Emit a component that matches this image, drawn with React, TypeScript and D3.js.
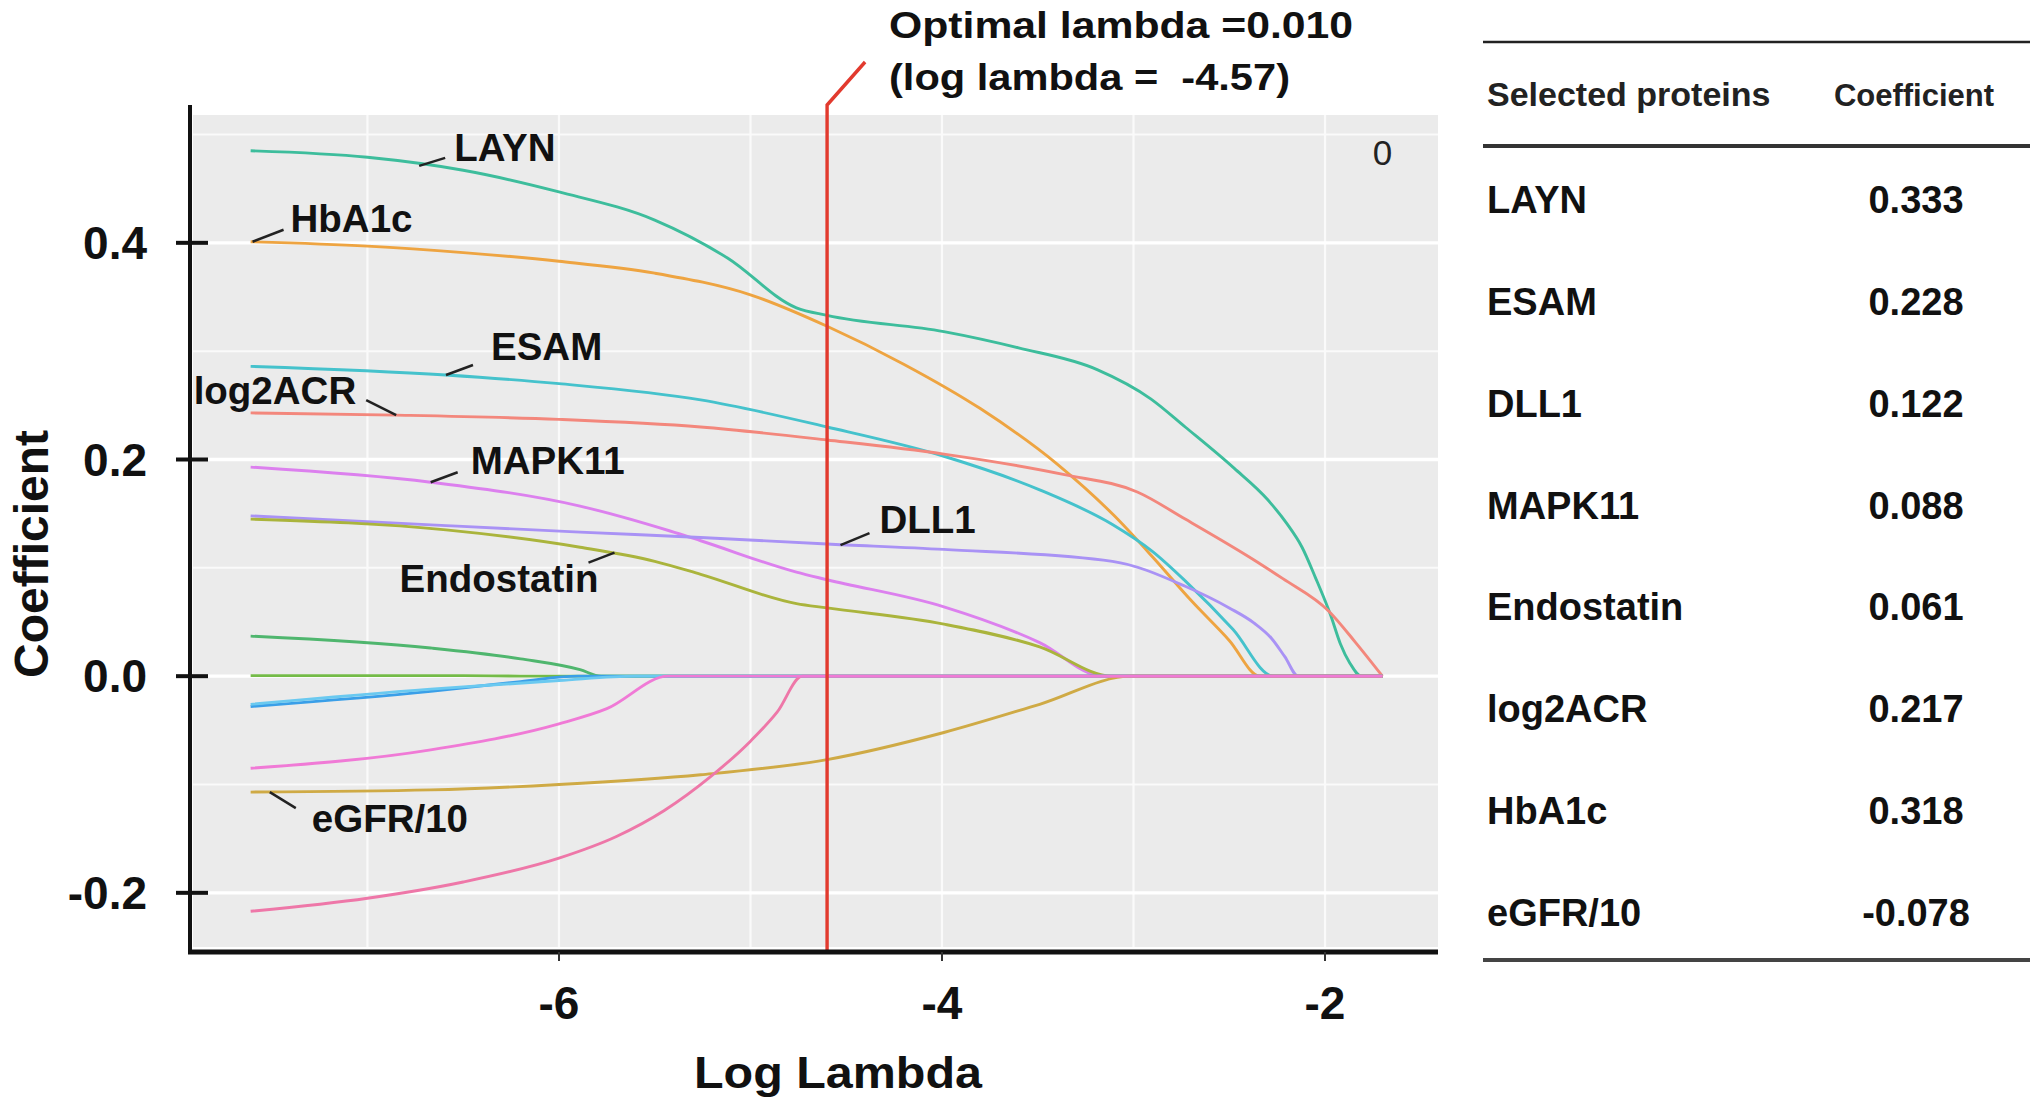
import React from 'react';
import * as d3 from 'd3';

const W = 2040;
const H = 1107;

// ---- Coefficient paths: [log lambda, coefficient] ----
const LAYN = [[-7.61,0.485],[-7.0,0.479],[-6.5,0.467],[-6.0,0.447],[-5.5,0.421],[-5.12,0.386],[-4.76,0.340],[-4.6,0.333],[-3.99,0.318],[-3.6,0.303],[-3.19,0.283],[-2.91,0.256],[-2.73,0.230],[-2.475,0.192],[-2.3,0.163],[-2.2,0.141],[-2.12,0.119],[-2.05,0.091],[-1.97,0.056],[-1.92,0.030],[-1.87,0.012],[-1.81,0],[-1.70,0]];
const HBA1C = [[-7.61,0.401],[-7.0,0.397],[-6.5,0.391],[-6.0,0.383],[-5.5,0.372],[-5.0,0.352],[-4.6,0.323],[-4.2,0.288],[-3.8,0.247],[-3.4,0.196],[-3.1,0.148],[-2.9,0.110],[-2.7,0.070],[-2.5,0.033],[-2.34,0],[-1.70,0]];
const ESAM = [[-7.61,0.286],[-6.59,0.278],[-6.0,0.270],[-5.26,0.255],[-4.6,0.230],[-3.99,0.203],[-3.49,0.172],[-3.11,0.140],[-2.9,0.115],[-2.73,0.088],[-2.48,0.043],[-2.27,0],[-1.70,0]];
const LOG2ACR = [[-7.61,0.243],[-6.85,0.241],[-6.0,0.237],[-5.26,0.230],[-4.6,0.218],[-3.99,0.205],[-3.36,0.186],[-2.98,0.170],[-2.73,0.145],[-2.35,0.105],[-2.22,0.090],[-1.98,0.060],[-1.84,0.031],[-1.70,0]];
const MAPK11 = [[-7.61,0.193],[-6.67,0.179],[-5.89,0.157],[-5.42,0.134],[-5.26,0.125],[-4.76,0.096],[-4.6,0.089],[-3.99,0.064],[-3.49,0.031],[-3.16,0],[-1.70,0]];
const DLL1 = [[-7.61,0.148],[-6.59,0.139],[-5.89,0.133],[-5.26,0.128],[-4.6,0.122],[-3.99,0.117],[-3.11,0.106],[-2.73,0.083],[-2.5,0.063],[-2.37,0.049],[-2.28,0.035],[-2.21,0.018],[-2.14,0],[-1.70,0]];
const ENDOSTATIN = [[-7.61,0.145],[-6.59,0.135],[-5.89,0.119],[-5.5,0.106],[-5.26,0.094],[-4.76,0.067],[-4.6,0.063],[-3.99,0.048],[-3.49,0.027],[-3.11,0],[-1.70,0]];
const GREEN_POS = [[-7.61,0.037],[-6.67,0.026],[-6.2,0.016],[-5.89,0.006],[-5.78,0],[-1.70,0]];
const GREEN_ZERO = [[-7.61,0.0005],[-6.5,0.0005],[-6.2,0],[-1.70,0]];
const BLUE = [[-7.61,-0.028],[-6.67,-0.014],[-6.2,-0.005],[-5.9,0],[-1.70,0]];
const LIGHT_BLUE = [[-7.61,-0.026],[-6.67,-0.012],[-6.0,-0.004],[-5.6,0],[-1.70,0]];
const EGFR = [[-7.61,-0.107],[-6.67,-0.105],[-6.0,-0.100],[-5.26,-0.091],[-4.6,-0.077],[-3.99,-0.052],[-3.49,-0.026],[-3.01,0],[-1.70,0]];
const CRIMSON = [[-7.61,-0.217],[-7.0,-0.205],[-6.5,-0.190],[-6.0,-0.168],[-5.7,-0.148],[-5.45,-0.124],[-5.21,-0.093],[-5.0,-0.060],[-4.86,-0.033],[-4.73,0],[-1.70,0]];
const MAGENTA = [[-7.61,-0.085],[-6.67,-0.068],[-6.0,-0.044],[-5.75,-0.030],[-5.43,0],[-1.70,0]];

const SERIES = [
  { data: LAYN, color: '#3dbd9c' },
  { data: HBA1C, color: '#eea441' },
  { data: ESAM, color: '#45c2cc' },
  { data: LOG2ACR, color: '#f3877c' },
  { data: MAPK11, color: '#dc80ee' },
  { data: DLL1, color: '#a992f5' },
  { data: ENDOSTATIN, color: '#aab43c' },
  { data: GREEN_POS, color: '#4fb66e' },
  { data: GREEN_ZERO, color: '#74bb48' },
  { data: BLUE, color: '#3a9fe8' },
  { data: LIGHT_BLUE, color: '#6ac9f0' },
  { data: EGFR, color: '#cfaa45' },
  { data: CRIMSON, color: '#ee77a8' },
  { data: MAGENTA, color: '#f07ad6' },
];

// Annotations: label text + anchor on curve (data coordinates)
const ANNOTATIONS = [
  { text: 'LAYN', at: [-6.73, 0.471], dx1: 26, dy1: -8, tx: 35, ty: -5, anchor: 'start' },
  { text: 'HbA1c', at: [-7.6, 0.401], dx1: 31, dy1: -12, tx: 38, ty: -10, anchor: 'start' },
  { text: 'ESAM', at: [-6.59, 0.278], dx1: 27, dy1: -10, tx: 45, ty: -15, anchor: 'start' },
  { text: 'log2ACR', at: [-6.85, 0.241], dx1: -30, dy1: -15, tx: -40, ty: -11, anchor: 'end' },
  { text: 'MAPK11', at: [-6.67, 0.179], dx1: 27, dy1: -10, tx: 40, ty: -8, anchor: 'start' },
  { text: 'Endostatin', at: [-5.71, 0.114], dx1: -26, dy1: 10, tx: -16, ty: 39, anchor: 'end' },
  { text: 'DLL1', at: [-4.53, 0.121], dx1: 29, dy1: -12, tx: 39, ty: -12, anchor: 'start' },
  { text: 'eGFR/10', at: [-7.51, -0.107], dx1: 26, dy1: 16, tx: 42, ty: 40, anchor: 'start' },
];

const X_TICKS = [-6, -4, -2];
const X_GRID = [-7, -6, -5, -4, -3, -2];
const Y_TICKS = [0.4, 0.2, 0.0, -0.2];
const Y_MINOR = [0.5, 0.3, 0.1, -0.1];
const OPT_LOG_LAMBDA = -4.6;
const TITLE_1 = 'Optimal lambda =0.010';
const TITLE_2 = '(log lambda =  -4.57)';
const TOP_COUNT = '0';
const TOP_COUNT_AT = -1.70;

const TABLE_NAMES = ['LAYN', 'ESAM', 'DLL1', 'MAPK11', 'Endostatin', 'log2ACR', 'HbA1c', 'eGFR/10'];
const TABLE_COEFS = ['0.333', '0.228', '0.122', '0.088', '0.061', '0.217', '0.318', '-0.078'];

const FONT = '"Liberation Sans", Arial, Helvetica, sans-serif';

export default function App() {
  const x = d3.scaleLinear().domain([-7.911, -1.41]).range([193, 1438]);
  const y = d3.scaleLinear().domain([-0.25, 0.518]).range([947, 115]);
  const line = d3
    .line<number[]>()
    .x((d) => x(d[0]))
    .y((d) => y(d[1]))
    .curve(d3.curveMonotoneX);

  const [x0, x1] = x.range();
  const [yb, yt] = y.range();
  const axisY = 952;
  const axisX = 190;
  const xo = x(OPT_LOG_LAMBDA);

  const rowY = d3.scalePoint<string>().domain(TABLE_NAMES).range([199, 912]);

  return (
    <svg
      width={W}
      height={H}
      style={{ position: 'absolute', left: 0, top: 0, background: '#fff' }}
      fontFamily={FONT}
    >
      <rect x={0} y={0} width={W} height={H} fill="#fff" />
      {/* panel */}
      <rect x={x0} y={yt} width={x1 - x0} height={yb - yt} fill="#ebebeb" />
      {Y_MINOR.map((v) => (
        <line key={'ym' + v} x1={x0} x2={x1} y1={y(v)} y2={y(v)} stroke="#fafafa" strokeWidth={2} />
      ))}
      {X_GRID.map((v) => (
        <line key={'xg' + v} x1={x(v)} x2={x(v)} y1={yt} y2={yb} stroke="#fafafa" strokeWidth={2.2} />
      ))}
      {Y_TICKS.map((v) => (
        <line key={'yg' + v} x1={x0} x2={x1} y1={y(v)} y2={y(v)} stroke="#ffffff" strokeWidth={3.4} />
      ))}

      {/* coefficient paths */}
      {SERIES.map((s, i) => (
        <path key={i} d={line(s.data) || ''} fill="none" stroke={s.color} strokeWidth={2.9} strokeLinejoin="round" />
      ))}

      {/* top count label */}
      <text x={x(TOP_COUNT_AT)} y={165} fontSize={35} textAnchor="middle" fill="#222">
        {TOP_COUNT}
      </text>

      {/* annotations */}
      {ANNOTATIONS.map((a) => {
        const px = x(a.at[0]);
        const py = y(a.at[1]);
        return (
          <g key={a.text}>
            <line x1={px} y1={py} x2={px + a.dx1} y2={py + a.dy1} stroke="#222" strokeWidth={2.5} />
            <text
              x={px + a.tx}
              y={py + a.ty}
              fontSize={38.5}
              fontWeight="bold"
              textAnchor={a.anchor}
              fill="#111"
            >
              {a.text}
            </text>
          </g>
        );
      })}

      {/* optimal lambda line */}
      <path
        d={`M${xo},${axisY} L${xo},${yt - 10} L${xo + 38},${yt - 53}`}
        fill="none"
        stroke="#e23a2e"
        strokeWidth={3.4}
      />
      <text x={889} y={38} fontSize={36} fontWeight="bold" fill="#111" textLength={464} lengthAdjust="spacingAndGlyphs">
        {TITLE_1}
      </text>
      <text x={889} y={90} fontSize={36} fontWeight="bold" fill="#111" textLength={401} lengthAdjust="spacingAndGlyphs" style={{ whiteSpace: 'pre' }}>
        {TITLE_2}
      </text>

      {/* axes */}
      <line x1={axisX} x2={axisX} y1={yt - 10} y2={axisY + 2} stroke="#111" strokeWidth={4} />
      <line x1={axisX - 2} x2={x1} y1={axisY} y2={axisY} stroke="#111" strokeWidth={5} />
      {Y_TICKS.map((v) => (
        <g key={'yt' + v}>
          <line x1={176} x2={208} y1={y(v)} y2={y(v)} stroke="#111" strokeWidth={4} />
          <text x={147} y={y(v) + 16} fontSize={46} fontWeight="bold" textAnchor="end" fill="#111">
            {v.toFixed(1)}
          </text>
        </g>
      ))}
      {X_TICKS.map((v) => (
        <g key={'xt' + v}>
          <line x1={x(v)} x2={x(v)} y1={axisY} y2={axisY + 9} stroke="#333" strokeWidth={2} />
          <text x={x(v)} y={1019} fontSize={46} fontWeight="bold" textAnchor="middle" fill="#111">
            {String(v)}
          </text>
        </g>
      ))}
      <text x={838} y={1088} fontSize={44} fontWeight="bold" textAnchor="middle" fill="#111" textLength={288} lengthAdjust="spacingAndGlyphs">
        Log Lambda
      </text>
      <text
        transform={`translate(48, 554) rotate(-90)`}
        fontSize={48}
        fontWeight="bold"
        textAnchor="middle"
        fill="#111"
      >
        Coefficient
      </text>

      {/* table */}
      <line x1={1483} x2={2030} y1={42} y2={42} stroke="#222" strokeWidth={2.5} />
      <text x={1487} y={106} fontSize={34} fontWeight="bold" fill="#222">
        Selected proteins
      </text>
      <text x={1914} y={106} fontSize={31} fontWeight="bold" textAnchor="middle" fill="#222">
        Coefficient
      </text>
      <line x1={1483} x2={2030} y1={146} y2={146} stroke="#333" strokeWidth={4} />
      {TABLE_NAMES.map((n, i) => (
        <g key={'row' + n}>
          <text x={1487} y={(rowY(n) as number) + 14} fontSize={38} fontWeight="bold" fill="#111">
            {n}
          </text>
          <text x={1916} y={(rowY(n) as number) + 14} fontSize={38} fontWeight="bold" textAnchor="middle" fill="#111">
            {TABLE_COEFS[i]}
          </text>
        </g>
      ))}
      <line x1={1483} x2={2030} y1={960} y2={960} stroke="#444" strokeWidth={4} />
    </svg>
  );
}
